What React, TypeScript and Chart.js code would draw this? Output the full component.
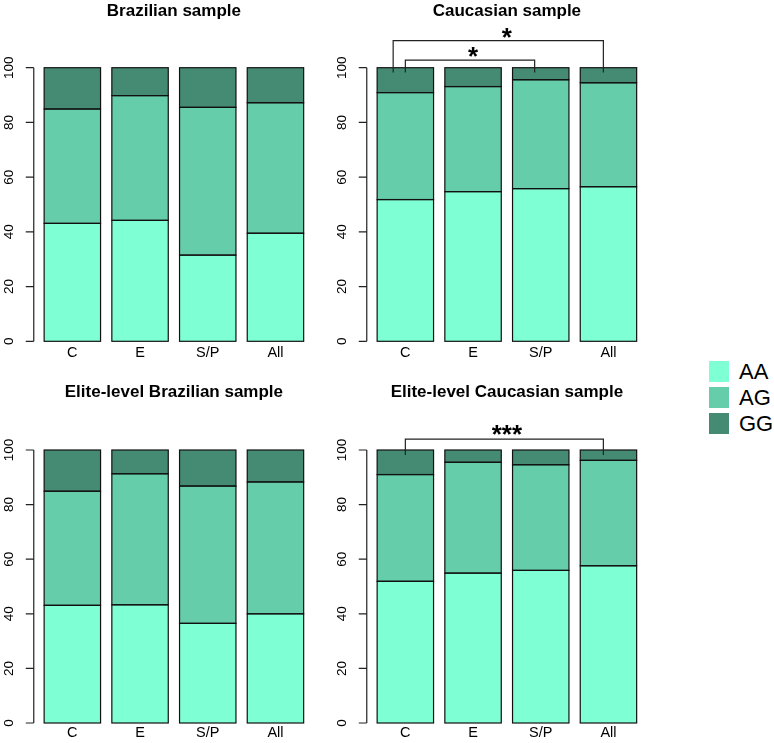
import React, { useEffect, useRef } from "react";
import { Chart, registerables } from "chart.js";
Chart.register(...registerables);

const categories = ["C", "E", "S/P", "All"];
const genotypes = ["AA", "AG", "GG"];
const colors = ["#7FFFD4", "#66CDAA", "#458B74"];
const yTicks = [0, 20, 40, 60, 80, 100];

const brazilAA = [43.1, 44.2, 31.5, 39.5];
const brazilAG = [41.8, 45.6, 54.0, 47.7];
const brazilGG = [15.1, 10.2, 14.5, 12.8];

const caucAA = [51.8, 54.7, 55.8, 56.5];
const caucAG = [39.1, 38.4, 39.8, 38.0];
const caucGG = [9.1, 6.9, 4.4, 5.5];

const eliteBrazilAA = [43.1, 43.3, 36.5, 40.0];
const eliteBrazilAG = [41.8, 48.0, 50.3, 48.3];
const eliteBrazilGG = [15.1, 8.7, 13.2, 11.7];

const eliteCaucAA = [51.9, 54.9, 55.9, 57.6];
const eliteCaucAG = [39.1, 40.6, 38.7, 38.6];
const eliteCaucGG = [9.0, 4.5, 5.4, 3.8];

type Bracket = {
  from: number; to: number; fromShift: number; toShift: number;
  level: number; drop: number; label: string; labelAt: number;
};

const caucBrackets: Bracket[] = [
  { from: 0, to: 3, fromShift: -0.18, toShift: -0.075, level: 109.9, drop: 98.2, label: "*", labelAt: 113.4 },
  { from: 0, to: 2, fromShift: 0, toShift: -0.09, level: 102.8, drop: 98.2, label: "*", labelAt: 106.3 },
];
const eliteCaucBrackets: Bracket[] = [
  { from: 0, to: 3, fromShift: 0, toShift: -0.075, level: 104.0, drop: 98.2, label: "***", labelAt: 107.9 },
];

const FONT = "'Liberation Sans', Arial, Helvetica, sans-serif";

type PanelProps = {
  title: string; aa: number[]; ag: number[]; gg: number[]; brackets: Bracket[];
  left: number; top: number; width: number; height: number;
  padTop: number; xAxisH: number; xPad: number; titleY: number;
};

function Panel(p: PanelProps) {
  const ref = useRef<HTMLCanvasElement | null>(null);
  useEffect(() => {
    if (!ref.current) return;
    const series = [p.aa, p.ag, p.gg];
    const overlay = {
      id: "rstyle",
      afterDatasetsDraw(chart: any) {
        const ctx = chart.ctx;
        ctx.save();
        ctx.strokeStyle = "#111";
        ctx.lineWidth = 1.2;
        chart.data.datasets.forEach((_d: any, i: number) => {
          const meta = chart.getDatasetMeta(i);
          meta.data.forEach((el: any) => {
            const { x, y, base, width } = el.getProps(["x", "y", "base", "width"], true);
            ctx.strokeRect(x - width / 2, Math.min(y, base), width, Math.abs(base - y));
          });
        });
        ctx.restore();
      },
      afterDraw(chart: any) {
        const ctx = chart.ctx;
        const ca = chart.chartArea;
        const x = chart.scales.x;
        const y = chart.scales.y;
        ctx.save();
        // title
        ctx.fillStyle = "#000";
        ctx.font = `bold 17px ${FONT}`;
        ctx.textAlign = "center";
        ctx.textBaseline = "alphabetic";
        ctx.fillText(p.title, (ca.left + ca.right) / 2, p.titleY);
        // y axis (R style)
        const unit = ca.width / categories.length / 1.2;
        const axisX = ca.left - 0.084 * unit;
        ctx.strokeStyle = "#222";
        ctx.lineWidth = 1.2;
        ctx.beginPath();
        ctx.moveTo(axisX, y.getPixelForValue(yTicks[0]));
        ctx.lineTo(axisX, y.getPixelForValue(yTicks[yTicks.length - 1]));
        yTicks.forEach((t) => {
          const py = y.getPixelForValue(t);
          ctx.moveTo(axisX, py);
          ctx.lineTo(axisX - 8, py);
        });
        ctx.stroke();
        ctx.font = `13.5px ${FONT}`;
        ctx.fillStyle = "#000";
        yTicks.forEach((t) => {
          const py = y.getPixelForValue(t);
          ctx.save();
          ctx.translate(axisX - 21, py);
          ctx.rotate(-Math.PI / 2);
          ctx.textAlign = "center";
          ctx.textBaseline = "alphabetic";
          ctx.fillText(String(t), 0, 0);
          ctx.restore();
        });
        // significance brackets
        const slot = ca.width / categories.length;
        p.brackets.forEach((b) => {
          const x1 = x.getPixelForValue(b.from) + b.fromShift * slot;
          const x2 = x.getPixelForValue(b.to) + b.toShift * slot;
          const yl = y.getPixelForValue(b.level);
          const yd = y.getPixelForValue(b.drop);
          ctx.strokeStyle = "#222";
          ctx.lineWidth = 1.2;
          ctx.beginPath();
          ctx.moveTo(x1, yd);
          ctx.lineTo(x1, yl);
          ctx.lineTo(x2, yl);
          ctx.lineTo(x2, yd);
          ctx.stroke();
          const xm = (x.getPixelForValue(b.from) + x.getPixelForValue(b.to)) / 2;
          const fs = 26;
          ctx.font = `bold ${fs}px ${FONT}`;
          ctx.fillStyle = "#000";
          ctx.textAlign = "center";
          ctx.textBaseline = "alphabetic";
          ctx.fillText(b.label, xm, y.getPixelForValue(b.labelAt) + 0.57 * fs);
        });
        ctx.restore();
      },
    };
    const chart = new Chart(ref.current, {
      type: "bar",
      data: {
        labels: categories,
        datasets: genotypes.map((g, i) => ({
          label: g,
          data: series[i],
          backgroundColor: colors[i],
          borderWidth: 0,
          barPercentage: 1 / 1.2,
          categoryPercentage: 1,
        })),
      },
      options: {
        responsive: false,
        animation: false,
        devicePixelRatio: 1,
        layout: { padding: { left: 38.5, right: p.width - 38.5 - 270.8, top: p.padTop, bottom: 0 } },
        plugins: { legend: { display: false }, tooltip: { enabled: false }, title: { display: false } },
        scales: {
          x: {
            stacked: true,
            grid: { display: false, drawTicks: false },
            border: { display: false },
            ticks: { color: "#000", font: { family: FONT, size: 14.5 }, padding: p.xPad, maxRotation: 0 },
            afterFit: (s: any) => { s.height = p.xAxisH; },
          },
          y: {
            stacked: true,
            min: 0,
            max: 100,
            grid: { display: false },
            border: { display: false },
            ticks: { display: false, stepSize: 20 },
            afterFit: (s: any) => { s.width = 0; },
          },
        },
      },
      plugins: [overlay],
    } as any);
    return () => chart.destroy();
  }, []);
  return (
    <canvas
      ref={ref}
      width={p.width}
      height={p.height}
      style={{ position: "absolute", left: p.left, top: p.top, width: p.width, height: p.height }}
    />
  );
}

export default function App() {
  return (
    <div style={{ position: "absolute", left: 0, top: 0, width: 774, height: 743, background: "#fff", overflow: "hidden" }}>
      <Panel title="Brazilian sample" aa={brazilAA} ag={brazilAG} gg={brazilGG} brackets={[]}
        left={0} top={0} width={333} height={370} padTop={67.7} xAxisH={28.7} xPad={3} titleY={15.5} />
      <Panel title="Caucasian sample" aa={caucAA} ag={caucAG} gg={caucGG} brackets={caucBrackets}
        left={333} top={0} width={333} height={370} padTop={67.7} xAxisH={28.7} xPad={3} titleY={15.5} />
      <Panel title="Elite-level Brazilian sample" aa={eliteBrazilAA} ag={eliteBrazilAG} gg={eliteBrazilGG} brackets={[]}
        left={0} top={370} width={333} height={373} padTop={80} xAxisH={20} xPad={1} titleY={27} />
      <Panel title="Elite-level Caucasian sample" aa={eliteCaucAA} ag={eliteCaucAG} gg={eliteCaucGG} brackets={eliteCaucBrackets}
        left={333} top={370} width={333} height={373} padTop={80} xAxisH={20} xPad={1} titleY={27} />
      {genotypes.map((g, i) => (
        <div key={g} style={{ position: "absolute", left: 709, top: 361 + i * 26, height: 21, display: "flex", alignItems: "center" }}>
          <div style={{ width: 20, height: 21, background: colors[i] }} />
          <span style={{ marginLeft: 10, font: `22px ${FONT}`, color: "#000", lineHeight: "21px" }}>{g}</span>
        </div>
      ))}
    </div>
  );
}
